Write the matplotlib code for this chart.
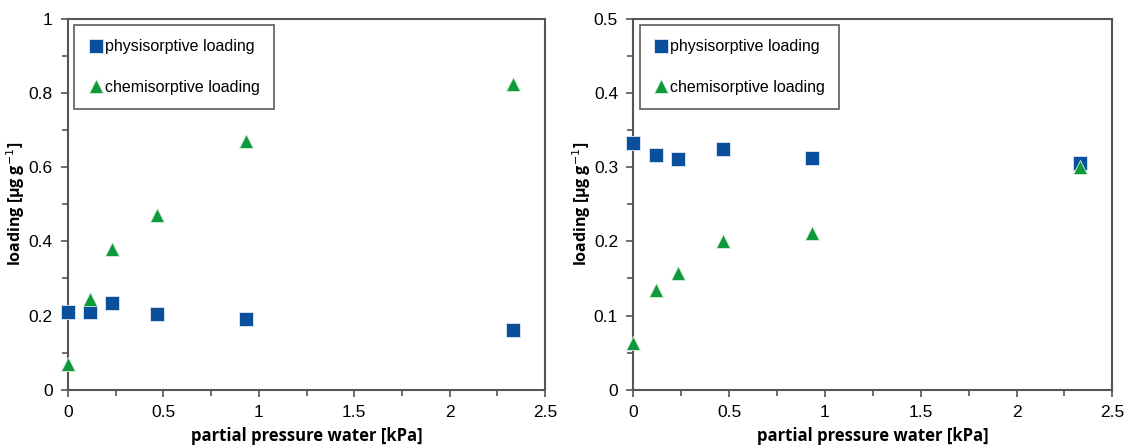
import numpy as np
import matplotlib.pyplot as plt
from matplotlib.ticker import MultipleLocator

# presión parcial de agua [kPa]
presion = [0, 0.117, 0.233, 0.467, 0.933, 2.333]

# panel izquierdo
fisi_izq = [0.21, 0.21, 0.235, 0.205, 0.19, 0.16]
quimi_izq = [0.07, 0.245, 0.38, 0.47, 0.67, 0.825]

# panel derecho
fisi_der = [0.333, 0.316, 0.311, 0.324, 0.312, 0.306]
quimi_der = [0.063, 0.134, 0.157, 0.2, 0.211, 0.3]

azul = '#0a4f9c'
verde = '#0e9a3c'
gris = '#555555'

plt.rcParams['font.family'] = ['Liberation Sans', 'DejaVu Sans']

fig = plt.figure(figsize=(11.31, 4.46), dpi=100)
ax1 = fig.add_axes([0.060, 0.126, 0.422, 0.832])
ax2 = fig.add_axes([0.560, 0.126, 0.4235, 0.832])

paneles = [(ax1, fisi_izq, quimi_izq, 1.0, 0.2), (ax2, fisi_der, quimi_der, 0.5, 0.1)]
for ax, fisi, quimi, ymax, paso in paneles:
    ax.plot(presion, fisi, 's', color=azul, markersize=10, markeredgecolor='#dfe8f5',
            markeredgewidth=0.6, label='physisorptive loading', clip_on=False, zorder=3)
    ax.plot(presion, quimi, '^', color=verde, markersize=10, markeredgecolor='#d8efd8',
            markeredgewidth=0.6, label='chemisorptive loading', clip_on=False, zorder=3)
    ax.set_xlim(0, 2.5)
    ax.set_ylim(0, ymax)
    ax.xaxis.set_major_locator(MultipleLocator(0.5))
    ax.xaxis.set_minor_locator(MultipleLocator(0.25))
    ax.yaxis.set_major_locator(MultipleLocator(paso))
    ax.yaxis.set_minor_locator(MultipleLocator(paso / 2))
    ax.xaxis.set_major_formatter(lambda v, p: f'{v:g}')
    ax.yaxis.set_major_formatter(lambda v, p: f'{v:g}')
    ax.tick_params(which='both', direction='out', color=gris, width=1.2, labelsize=12.5, pad=6)
    ax.tick_params(which='major', length=5)
    ax.tick_params(which='minor', length=4)
    for s in ax.spines.values():
        s.set_color(gris)
        s.set_linewidth(1.5)
    ax.set_xlabel('partial pressure water [kPa]', fontsize=12, fontweight='bold',
                  family=['Open Sans', 'DejaVu Sans'])
    ax.set_ylabel('loading [µg g$^{-1}$]', fontsize=11.5, fontweight='bold',
                  family=['Open Sans', 'DejaVu Sans'])
    ax.xaxis.set_label_coords(0.5, -0.1)
    ax.yaxis.set_label_coords(-0.085, 0.5)
    leg = ax.legend(loc='upper left', fontsize=11.5, frameon=True, fancybox=False,
                    handletextpad=0.1, labelspacing=1.6, borderpad=0.9,
                    borderaxespad=0.4, handlelength=0.9, markerscale=0.95)
    leg.get_frame().set_edgecolor('#333333')
    leg.get_frame().set_linewidth(1.2)

plt.savefig('out.png', dpi=100)
